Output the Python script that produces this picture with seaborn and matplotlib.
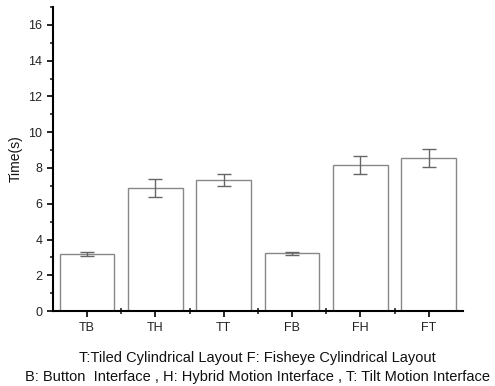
import matplotlib
matplotlib.use("Agg")
import matplotlib.pyplot as plt
import seaborn as sns
import pandas as pd
from matplotlib.ticker import MultipleLocator

conditions = ["TB", "TH", "TT", "FB", "FH", "FT"]
times = [3.19, 6.88, 7.33, 3.24, 8.17, 8.55]
errors = [0.10, 0.50, 0.33, 0.09, 0.50, 0.50]

df = pd.DataFrame({"cond": conditions, "time": times})

sns.set_style("ticks")
plt.rcParams['font.family'] = ['Liberation Sans', 'DejaVu Sans']

fig = plt.figure(figsize=(4.95, 3.86), dpi=100)
ax = fig.add_axes([0.107, 0.194, 0.828, 0.788])

sns.barplot(data=df, x="cond", y="time", color="white", edgecolor="#888888",
            linewidth=1.0, width=0.8, errorbar=None, ax=ax)
ax.errorbar(range(len(conditions)), times, yerr=errors, fmt="none",
            ecolor="#666666", elinewidth=1.0, capsize=5, capthick=1.0)

ax.set_xlim(-0.5, 5.5)
ax.set_ylim(0, 17)
ax.yaxis.set_major_locator(MultipleLocator(2))
ax.yaxis.set_minor_locator(MultipleLocator(1))
ax.set_xticks([i + 0.5 for i in range(len(conditions) - 1)], minor=True)
ax.tick_params(axis="x", which="minor", direction="inout", length=4, width=1.2)
ax.tick_params(axis="both", which="major", length=4, width=1.2, labelsize=9,
               color="black", labelcolor="#222222")
ax.tick_params(axis="y", which="minor", length=2.5, width=1.2)
ax.set_xlabel("")
ax.set_ylabel("Time(s)", fontsize=10, color="#111111")
for s in ["left", "bottom"]:
    ax.spines[s].set_linewidth(1.5)
    ax.spines[s].set_color("black")
ax.spines["top"].set_visible(False)
ax.spines["right"].set_visible(False)

fig.text(0.52, 0.072, "T:Tiled Cylindrical Layout F: Fisheye Cylindrical Layout",
         ha="center", va="center", fontsize=10.5, color="#111111")
fig.text(0.52, 0.023, "B: Button  Interface , H: Hybrid Motion Interface , T: Tilt Motion Interface",
         ha="center", va="center", fontsize=10.5, color="#111111")

fig.savefig("out.png", dpi=100)
